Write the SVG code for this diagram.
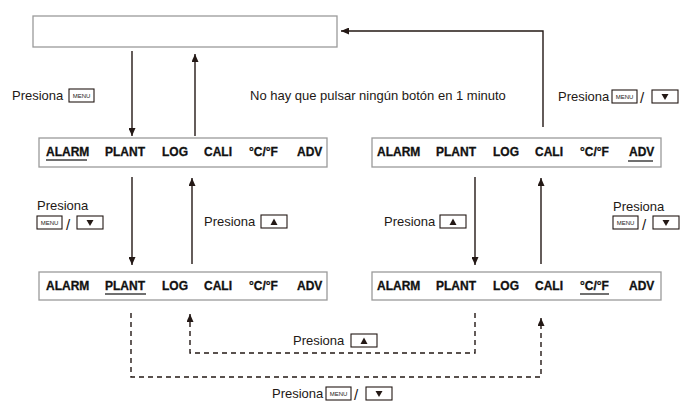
<svg xmlns="http://www.w3.org/2000/svg" width="682" height="404" viewBox="0 0 682 404">
<defs>
<style>
.box{fill:#fff;stroke:#9a9a9a;stroke-width:1.3}
.lbl{font-family:"Liberation Sans",Arial,sans-serif;font-weight:bold;font-size:12px;fill:#111;stroke:#111;stroke-width:0.3}
.txt{font-family:"Liberation Sans",Arial,sans-serif;font-size:13px;fill:#231815}
.sl{font-family:"Liberation Sans",Arial,sans-serif;font-size:15px;fill:#231815}
.ul{stroke:#707070;stroke-width:2}
.ln{fill:none;stroke:#231815;stroke-width:1.4}
.dash{fill:none;stroke:#231815;stroke-width:1.4;stroke-dasharray:5,4}
.key{fill:#fff;stroke:#231815;stroke-width:1.1}
.kt{font-family:"Liberation Sans",Arial,sans-serif;font-size:6px;fill:#231815}
.tri{fill:#231815}
</style>
<marker id="ah" viewBox="0 0 8 7" refX="8" refY="3.5" markerWidth="8" markerHeight="7" markerUnits="userSpaceOnUse" orient="auto">
<path d="M0,0 L8,3.5 L0,7z" fill="#231815"/>
</marker>
<g id="menuKey"><rect class="key" x="0" y="0" width="25" height="13"/><text class="kt" x="12.5" y="8.9" text-anchor="middle">MENU</text></g>
<g id="downKey"><rect class="key" x="0" y="0" width="26" height="13"/><path class="tri" d="M9.5,4 H16.5 L13,10z"/></g>
<g id="upKey"><rect class="key" x="0" y="0" width="26" height="13"/><path class="tri" d="M9.5,10 H16.5 L13,3.5z"/></g>
</defs>
<rect width="682" height="404" fill="#fff"/>

<g id="top-display"><rect class="box" x="33" y="16" width="304" height="31"/></g>

<g id="display-alarm">
<rect class="box" x="39" y="138" width="288" height="29"/>
<text class="lbl" y="156"><tspan x="46">ALARM</tspan><tspan x="105">PLANT</tspan><tspan x="162">LOG</tspan><tspan x="204">CALI</tspan><tspan x="249">°C/°F</tspan><tspan x="297">ADV</tspan></text>
<line class="ul" x1="46" y1="160" x2="87" y2="160"/>
</g>

<g id="display-adv">
<rect class="box" x="372" y="138" width="289" height="29"/>
<text class="lbl" y="156"><tspan x="377">ALARM</tspan><tspan x="436">PLANT</tspan><tspan x="493">LOG</tspan><tspan x="535">CALI</tspan><tspan x="580">°C/°F</tspan><tspan x="629">ADV</tspan></text>
<line class="ul" x1="628" y1="161" x2="653" y2="161"/>
</g>

<g id="display-plant">
<rect class="box" x="39" y="272" width="288" height="28"/>
<text class="lbl" y="290"><tspan x="46">ALARM</tspan><tspan x="105">PLANT</tspan><tspan x="162">LOG</tspan><tspan x="204">CALI</tspan><tspan x="249">°C/°F</tspan><tspan x="297">ADV</tspan></text>
<line class="ul" x1="105" y1="294" x2="146" y2="294"/>
</g>

<g id="display-cf">
<rect class="box" x="372" y="272" width="289" height="28"/>
<text class="lbl" y="290"><tspan x="377">ALARM</tspan><tspan x="436">PLANT</tspan><tspan x="493">LOG</tspan><tspan x="535">CALI</tspan><tspan x="580">°C/°F</tspan><tspan x="629">ADV</tspan></text>
<line class="ul" x1="580" y1="294" x2="609" y2="294"/>
</g>

<g id="connectors">
<line class="ln" x1="132" y1="51" x2="132" y2="136" marker-end="url(#ah)"/>
<line class="ln" x1="195" y1="136" x2="195" y2="54" marker-end="url(#ah)"/>
<path class="ln" d="M543,127 V31 H341" marker-end="url(#ah)"/>
<line class="ln" x1="132" y1="177" x2="132" y2="265" marker-end="url(#ah)"/>
<line class="ln" x1="192" y1="264" x2="192" y2="178" marker-end="url(#ah)"/>
<line class="ln" x1="475" y1="177" x2="475" y2="265" marker-end="url(#ah)"/>
<line class="ln" x1="541" y1="264" x2="541" y2="178" marker-end="url(#ah)"/>
<path class="dash" d="M475,313 V353 H190 V314" marker-end="url(#ah)"/>
<path class="dash" d="M131,313 V377 H541 V318" marker-end="url(#ah)"/>
</g>

<g id="labels">
<text class="txt" x="12" y="100">Presiona</text>
<use href="#menuKey" x="69" y="89"/>
<text class="txt" x="250" y="100" font-size="13.3">No hay que pulsar ningún botón en 1 minuto</text>
<text class="txt" x="558" y="101">Presiona</text>
<use href="#menuKey" x="612" y="90"/>
<text class="sl" x="640" y="103">/</text>
<use href="#downKey" x="652" y="90"/>

<text class="txt" x="37" y="210">Presiona</text>
<use href="#menuKey" x="37" y="216"/>
<text class="sl" x="66" y="230">/</text>
<use href="#downKey" x="77" y="216"/>

<text class="txt" x="204" y="226">Presiona</text>
<use href="#upKey" x="261" y="215"/>

<text class="txt" x="384" y="226">Presiona</text>
<use href="#upKey" x="440" y="215"/>

<text class="txt" x="613" y="211">Presiona</text>
<use href="#menuKey" x="613" y="216"/>
<text class="sl" x="642" y="230">/</text>
<use href="#downKey" x="653" y="216"/>

<text class="txt" x="293" y="345">Presiona</text>
<use href="#upKey" x="351" y="334"/>

<text class="txt" x="272" y="398">Presiona</text>
<use href="#menuKey" x="326" y="387"/>
<text class="sl" x="354" y="400">/</text>
<use href="#downKey" x="366" y="387"/>
</g>
</svg>
